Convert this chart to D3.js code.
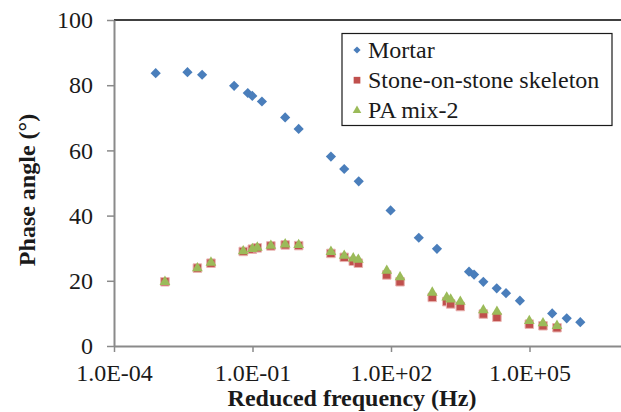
<!DOCTYPE html>
<html>
<head>
<meta charset="utf-8">
<script src="https://cdn.jsdelivr.net/npm/d3@7"></script>
<style>
	body { margin: 0; background: #ffffff; }
	svg { display: block; }
	svg text { font-family: "Liberation Serif", "Times New Roman", serif; }
</style>
</head>
<body>
<div id="chart"></div>
<script>
	"use strict";

	// reduced frequency (Hz) and phase angle (deg)
	var mortarFreq  = [8.0e-4, 3.9e-3, 8.1e-3, 0.040, 0.079, 0.099, 0.16, 0.51, 1.0, 5.0, 9.7, 20,
	                   98, 400, 990, 4900, 6300, 1.0e4, 1.95e4, 3.1e4, 6.2e4, 3.1e5, 6.4e5, 1.26e6];
	var mortarPhase = [83.7, 84.0, 83.2, 79.8, 77.6, 76.7, 75.0, 70.1, 66.6, 58.1, 54.3, 50.5,
	                   41.6, 33.2, 29.8, 22.8, 21.9, 19.7, 17.7, 16.2, 13.9, 10.0, 8.5, 7.3];

	var mixFreq   = [1.27e-3, 6.4e-3, 0.0126, 0.063, 0.099, 0.127, 0.25, 0.51, 1.0, 5.0, 9.7, 15.2,
	                 19.6, 81, 157, 783, 1610, 1960, 3170, 1.0e4, 1.97e4, 9.9e4, 1.96e5, 3.94e5];
	var stonePhase = [19.7, 23.9, 25.4, 29.0, 29.7, 30.1, 30.7, 31.0, 30.8, 28.4, 27.2, 26.0,
	                  25.4, 21.8, 19.7, 14.9, 13.6, 12.9, 12.1, 9.8, 8.8, 6.7, 6.2, 5.6];
	var paPhase    = [19.7, 23.9, 25.6, 29.1, 29.8, 30.2, 30.8, 31.2, 31.0, 28.9, 27.7, 26.9,
	                  26.5, 23.1, 21.1, 16.4, 14.9, 14.3, 13.6, 11.0, 10.5, 7.7, 7.0, 6.2];

	var seriesNames = ["Mortar", "Stone-on-stone skeleton", "PA mix-2"];
	var xTicks = [1e-4, 1e-1, 1e2, 1e5];
	var yTicks = [0, 20, 40, 60, 80, 100];

	var w = 621;
	var h = 412;
	var font = "Liberation Serif, Times New Roman, serif";

	var x = d3.scaleLog().domain([1e-4, 1e8]).range([114, 668]);
	var y = d3.scaleLinear().domain([0, 100]).range([346, 20]);

	var svg = d3.select("#chart").append("svg")
		.attr("width", w)
		.attr("height", h);

	// top border of the plot box
	svg.append("line")
		.attr("x1", 114).attr("x2", w)
		.attr("y1", y(100)).attr("y2", y(100))
		.attr("stroke", "#404040")
		.attr("stroke-width", 2);

	function fmtExp(v) {
		var e = Math.round(Math.log10(v));
		var s = Math.abs(e) < 10 ? "0" + Math.abs(e) : "" + Math.abs(e);
		return "1.0E" + (e < 0 ? "-" : "+") + s;
	}

	var yAxis = svg.append("g")
		.attr("transform", "translate(114,0)")
		.call(d3.axisLeft(y).tickValues(yTicks).tickSize(7).tickPadding(14).tickSizeOuter(0));

	var xAxis = svg.append("g")
		.attr("transform", "translate(0," + y(0) + ")")
		.call(d3.axisBottom(x).tickValues(xTicks).tickFormat(fmtExp).tickSize(6).tickPadding(12).tickSizeOuter(0));

	[yAxis, xAxis].forEach(function(g) {
		g.attr("font-family", null);
		g.select(".domain").attr("stroke", "#8a8a8a").attr("stroke-width", 2);
		g.selectAll(".tick line").attr("stroke", "#8a8a8a").attr("stroke-width", 1.5);
		g.selectAll(".tick text")
			.attr("fill", "#1a1a1a")
			.style("font-family", font)
			.attr("font-size", 24);
	});

	// axis titles
	svg.append("text")
		.attr("x", 352)
		.attr("y", 406)
		.attr("text-anchor", "middle")
		.style("font-family", font)
		.attr("font-weight", "bold")
		.attr("font-size", 24)
		.attr("fill", "#1a1a1a")
		.text("Reduced frequency (Hz)");

	svg.append("text")
		.attr("transform", "translate(35,190) rotate(-90)")
		.attr("text-anchor", "middle")
		.style("font-family", font)
		.attr("font-weight", "bold")
		.attr("font-size", 24)
		.attr("fill", "#1a1a1a")
		.text("Phase angle (\u00b0)");

	var diamond = d3.symbol().type(d3.symbolSquare).size(52);
	var square = d3.symbol().type(d3.symbolSquare).size(72);
	var triangle = d3.symbol().type(d3.symbolTriangle).size(50);

	var mortar = mortarFreq.map(function(f, i) { return [f, mortarPhase[i]]; });
	var stone = mixFreq.map(function(f, i) { return [f, stonePhase[i]]; });
	var pa = mixFreq.map(function(f, i) { return [f, paPhase[i]]; });

	svg.append("g").selectAll("path")
		.data(mortar)
		.enter()
		.append("path")
			.attr("d", diamond)
			.attr("transform", function(d) { return "translate(" + x(d[0]) + "," + y(d[1]) + ") rotate(45)"; })
			.attr("fill", "#4a7ebb");

	svg.append("g").selectAll("path")
		.data(stone)
		.enter()
		.append("path")
			.attr("d", square)
			.attr("transform", function(d) { return "translate(" + x(d[0]) + "," + y(d[1]) + ")"; })
			.attr("fill", "#c0504d")
			.attr("stroke", "#e9b3b1")
			.attr("stroke-width", 1);

	svg.append("g").selectAll("path")
		.data(pa)
		.enter()
		.append("path")
			.attr("d", triangle)
			.attr("transform", function(d) { return "translate(" + x(d[0]) + "," + y(d[1]) + ")"; })
			.attr("fill", "#9bbb59");

	// legend
	var legend = svg.append("g");
	legend.append("rect")
		.attr("x", 342).attr("y", 33.5)
		.attr("width", 270).attr("height", 92)
		.attr("fill", "#ffffff")
		.attr("stroke", "#1a1a1a")
		.attr("stroke-width", 1.2);

	var legendShapes = [
		d3.symbol().type(d3.symbolSquare).size(26)(),
		d3.symbol().type(d3.symbolSquare).size(45)(),
		d3.symbol().type(d3.symbolTriangle).size(32)()
	];
	var legendColors = ["#4a7ebb", "#c0504d", "#9bbb59"];

	seriesNames.forEach(function(name, i) {
		var cy = 50 + i * 30.2;
		legend.append("path")
			.attr("d", legendShapes[i])
			.attr("transform", "translate(357," + cy + ")" + (i === 0 ? " rotate(45)" : ""))
			.attr("fill", legendColors[i]);
		legend.append("text")
			.attr("x", 368)
			.attr("y", cy + 7.5)
			.style("font-family", font)
			.attr("font-size", 24)
			.attr("fill", "#1a1a1a")
			.text(name);
	});
</script>
</body>
</html>
